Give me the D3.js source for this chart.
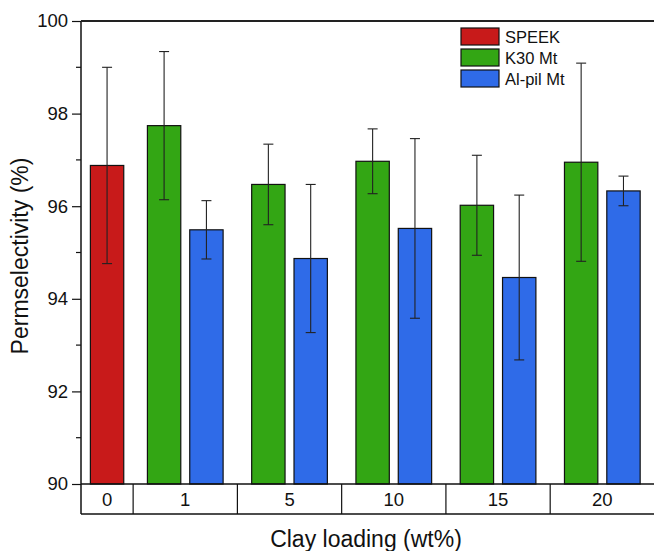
<!DOCTYPE html>
<meta charset="utf-8">
<script src="https://d3js.org/d3.v7.min.js"></script>
<style>
  body { margin: 0; background: #fff; }
  text { font-family: "Liberation Sans", Arial, sans-serif; }
</style>
<body>
<div id="chart"></div>
<script>
// data
const loadings = ["0", "1", "5", "10", "15", "20"];
const seriesNames = ["SPEEK", "K30 Mt", "Al-pil Mt"];
const seriesColors = ["#c81a1a", "#33a614", "#2f6be8"];
// null = no bar for that loading
const speekVal = [96.88, null, null, null, null, null];
const speekErr = [2.12, null, null, null, null, null];
const k30Val = [null, 97.74, 96.47, 96.97, 96.02, 96.95];
const k30Err = [null, 1.60, 0.87, 0.70, 1.08, 2.14];
const alpilVal = [null, 95.49, 94.87, 95.52, 94.46, 96.33];
const alpilErr = [null, 0.63, 1.60, 1.94, 1.78, 0.32];
const yTicks = [90, 92, 94, 96, 98, 100];

const W = 654, H = 551;
const margin = {top: 21, right: 0, bottom: 67, left: 81};
const plotRight = 668; // frame runs off the right edge of the image

const svg = d3.select("#chart").append("svg")
  .attr("width", W).attr("height", H);

const y = d3.scaleLinear().domain([90, 100]).range([H - margin.bottom, margin.top]);
// group 0 takes half a slot, the others one slot each
const x = d3.scaleLinear().domain([0, 5.63]).range([margin.left, plotRight]);
const groupCenter = i => i === 0 ? 0.25 : i;
const barW = 0.32, offset = 0.203;

const series = [
  {name: seriesNames[0], color: seriesColors[0], vals: speekVal, errs: speekErr, off: 0},
  {name: seriesNames[1], color: seriesColors[1], vals: k30Val, errs: k30Err, off: -offset},
  {name: seriesNames[2], color: seriesColors[2], vals: alpilVal, errs: alpilErr, off: offset}
];

const bars = [];
series.forEach(s => {
  s.vals.forEach((v, i) => {
    if (v !== null) bars.push({v: v, e: s.errs[i], cx: groupCenter(i) + s.off, color: s.color});
  });
});

const gBars = svg.append("g");
gBars.selectAll("rect").data(bars).enter().append("rect")
  .attr("x", d => x(d.cx - barW / 2))
  .attr("width", d => x(d.cx + barW / 2) - x(d.cx - barW / 2))
  .attr("y", d => y(d.v))
  .attr("height", d => y(90) - y(d.v))
  .attr("fill", d => d.color)
  .attr("stroke", "#111")
  .attr("stroke-width", 1.2);

// error bars
const gErr = svg.append("g").attr("stroke", "#222").attr("stroke-width", 1.1);
bars.forEach(d => {
  const cx = x(d.cx);
  gErr.append("line").attr("x1", cx).attr("x2", cx).attr("y1", y(d.v - d.e)).attr("y2", y(d.v + d.e));
  [d.v - d.e, d.v + d.e].forEach(t => {
    gErr.append("line").attr("x1", cx - 5).attr("x2", cx + 5).attr("y1", y(t)).attr("y2", y(t));
  });
});

// y axis
const yAxis = d3.axisLeft(y).tickValues(yTicks).tickSize(9).tickPadding(4).tickFormat(d3.format("d"));
const gy = svg.append("g").attr("transform", `translate(${margin.left},0)`).call(yAxis);
gy.select(".domain").remove();
gy.selectAll("line").attr("stroke", "#111").attr("stroke-width", 1.2);
gy.selectAll("text").attr("font-size", 18.5).attr("fill", "#111")
  .attr("font-family", "'Liberation Sans', Arial, sans-serif");
const yMinor = d3.range(91, 100, 2);
svg.append("g").selectAll("line").data(yMinor).enter().append("line")
  .attr("x1", margin.left - 5).attr("x2", margin.left)
  .attr("y1", d => y(d)).attr("y2", d => y(d))
  .attr("stroke", "#111").attr("stroke-width", 1.2);

// frame: left axis line down through table, top line
const tableBottom = y(90) + 30;
svg.append("line").attr("x1", margin.left).attr("x2", margin.left)
  .attr("y1", y(100)).attr("y2", tableBottom).attr("stroke", "#111").attr("stroke-width", 1.5);
svg.append("line").attr("x1", margin.left).attr("x2", plotRight)
  .attr("y1", y(100)).attr("y2", y(100)).attr("stroke", "#222").attr("stroke-width", 2);
svg.append("line").attr("x1", margin.left).attr("x2", plotRight)
  .attr("y1", y(90)).attr("y2", y(90)).attr("stroke", "#111").attr("stroke-width", 1.5);
svg.append("line").attr("x1", margin.left).attr("x2", plotRight)
  .attr("y1", tableBottom).attr("y2", tableBottom).attr("stroke", "#111").attr("stroke-width", 1.5);

// category table under the axis
const dividers = d3.range(0.5, 5, 1);
svg.append("g").selectAll("line").data(dividers).enter().append("line")
  .attr("x1", d => x(d)).attr("x2", d => x(d))
  .attr("y1", y(90)).attr("y2", tableBottom)
  .attr("stroke", "#111").attr("stroke-width", 1.2);
svg.append("g").selectAll("text").data(loadings).enter().append("text")
  .attr("x", (d, i) => x(groupCenter(i)))
  .attr("y", y(90) + 22)
  .attr("text-anchor", "middle")
  .attr("font-size", 18.5).attr("fill", "#111")
  .text(d => d);

// axis titles
svg.append("text")
  .attr("x", 366).attr("y", 547)
  .attr("text-anchor", "middle").attr("font-size", 23).attr("fill", "#111")
  .text("Clay loading (wt%)");
svg.append("text")
  .attr("transform", `translate(28,256) rotate(-90)`)
  .attr("text-anchor", "middle").attr("font-size", 23).attr("fill", "#111")
  .text("Permselectivity (%)");

// legend
const legend = svg.append("g").attr("transform", "translate(461,28)");
series.forEach((s, i) => {
  const g = legend.append("g").attr("transform", `translate(0,${i * 21})`);
  g.append("rect").attr("width", 38).attr("height", 17)
    .attr("fill", s.color).attr("stroke", "#111").attr("stroke-width", 1.2);
  g.append("text").attr("x", 44).attr("y", 14.5).attr("font-size", 16.5).attr("fill", "#111").text(s.name);
});
</script>
</body>
